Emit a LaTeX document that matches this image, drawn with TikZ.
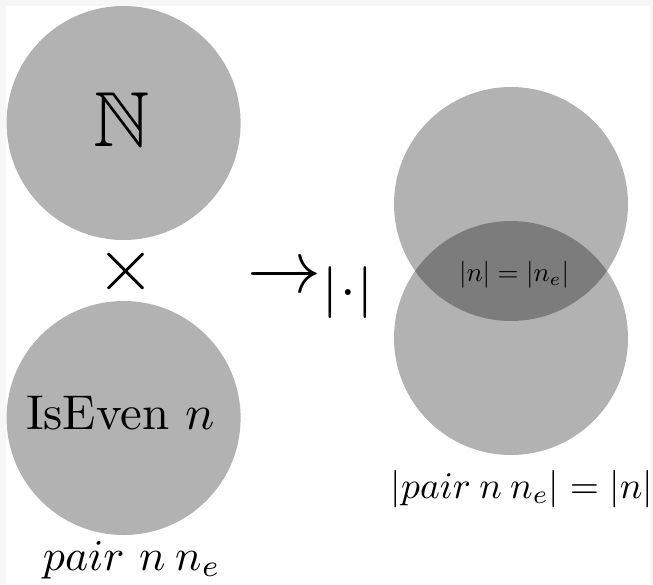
\documentclass[tikz,border=0pt]{standalone}
\usepackage{amssymb}
\begin{document}
\begin{tikzpicture}[x=0.5pt,y=-0.5pt,
  setc/.style={circle,minimum size=117pt,inner sep=0pt,fill=black,fill opacity=0.3},
  lbl/.style={inner sep=0pt}]
\useasboundingbox (0,0) rectangle (653,584);
\fill[black!3] (0,0) rectangle (653,584);
\fill[white] (6,6) rectangle (650,584);
\node[setc] (nat) at (123.6,123) {};
\node[setc] (even) at (123.6,418) {};
\node[setc] (rt) at (511,204) {};
\node[setc] (rb) at (511,338) {};
\node[lbl,scale=3.9] (natl) at (122,120) {$\mathbb{N}$};
\node[lbl,scale=2.44] (evenl) at (120.5,413.5) {IsEven $n$};
\node[lbl,scale=3.8] (times) at (125.6,271.5) {$\times$};
\node[lbl,scale=3.7,anchor=base west] (map) at (246,292) {$\rightarrow_{|\cdot|}$};
\node[lbl,scale=1.35] (eq) at (514,275) {$|n|=|n_e|$};
\node[lbl,scale=2.2,anchor=base west] (pairl) at (42,570) {$pair\ n\:n_e$};
\node[lbl,scale=1.88,anchor=base west] (pairr) at (390,498) {$|pair\:n\:n_e|=|n|$};
\end{tikzpicture}
\end{document}
